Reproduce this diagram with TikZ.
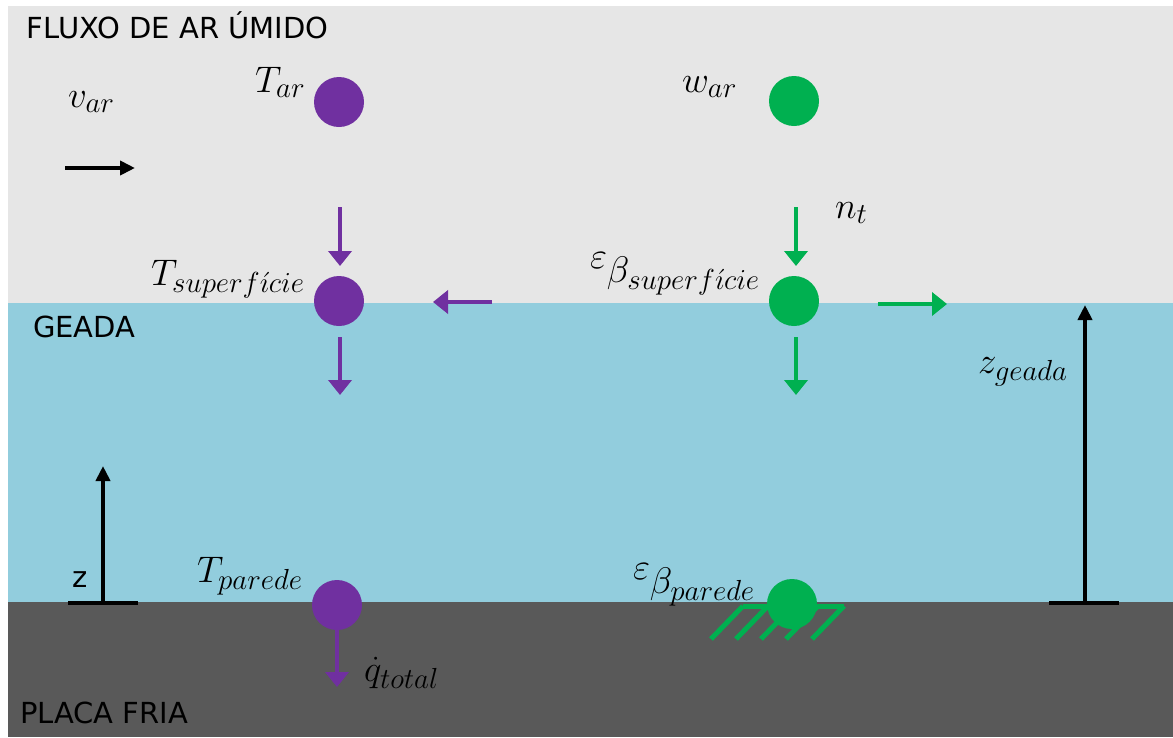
\RequirePackage{fix-cm}
\documentclass[tikz,border=0pt]{standalone}
\usepackage{fontspec}
\newfontfamily\lblfont{DejaVu Sans}
\usetikzlibrary{arrows.meta}
\DeclareMathSizes{37}{37}{29}{21}
\definecolor{airgray}{RGB}{230,230,230}
\definecolor{frost}{RGB}{146,205,221}
\definecolor{plate}{RGB}{89,89,89}
\definecolor{tpurple}{RGB}{112,48,160}
\definecolor{wgreen}{RGB}{0,176,80}
\begin{document}
\begin{tikzpicture}[x=1pt,y=-1pt,
  every node/.style={inner sep=0pt, outer sep=0pt},
  dot/.style={circle, minimum size=50pt, fill=#1},
  sym/.style={font=\fontsize{37}{44}\selectfont, anchor=base west, text=black},
  zone/.style={font=\lblfont\fontsize{29}{35}\selectfont, anchor=base west, text=black},
  colarrow/.style={draw=#1, line width=4pt, -{Triangle[width=23pt,length=15pt]}},
  blkarrow/.style={draw=black, line width=4.5pt, -{Triangle[width=14pt,length=15pt]}},
  basebar/.style={draw=black, line width=4.5pt},
  hatch/.style={draw=wgreen, line width=5pt}
]
\useasboundingbox (0,0) rectangle (1173,737);
\fill[white] (0,0) rectangle (1173,737);
% regions
\fill[airgray] (8,6) rectangle (1173,303);
\fill[frost] (8,303) rectangle (1173,602);
\fill[plate] (8,602) rectangle (1173,737);

% hatch under wall concentration point
\draw[hatch] (743,606) -- (844,606);
\foreach \hx in {743,768,793,818,844} {
  \draw[hatch] (\hx,606) -- (\hx-32,639);
}

% points
\node[dot=tpurple] (Tar) at (339,102) {};
\node[dot=tpurple] (Tsup) at (339,301) {};
\node[dot=tpurple] (Twall) at (337,605) {};
\node[dot=wgreen] (war) at (794,101) {};
\node[dot=wgreen] (esup) at (794,301) {};
\node[dot=wgreen] (ewall) at (792,604) {};

% arrow end coordinates
\coordinate (pa1s) at (340,207); \coordinate (pa1e) at (340,266);
\coordinate (pa2s) at (340,337); \coordinate (pa2e) at (340,395);
\coordinate (pa3s) at (492,302); \coordinate (pa3e) at (433,302);
\coordinate (pa4e) at (337,687);
\coordinate (ga1s) at (796,207); \coordinate (ga1e) at (796,266);
\coordinate (ga2s) at (796,337); \coordinate (ga2e) at (796,395);
\coordinate (ga3s) at (878,304); \coordinate (ga3e) at (947,304);
\coordinate (vs) at (65,168); \coordinate (ve) at (135,168);
\coordinate (zs) at (103,603); \coordinate (ze) at (103,466);
\coordinate (zl) at (68,603); \coordinate (zr) at (138,603);
\coordinate (gs) at (1085,603); \coordinate (ge) at (1085,305);
\coordinate (gl) at (1049,603); \coordinate (gr) at (1119,603);

% arrows
\draw[colarrow=tpurple] (pa1s) -- (pa1e);
\draw[colarrow=tpurple] (pa2s) -- (pa2e);
\draw[colarrow=tpurple] (pa3s) -- (pa3e);
\draw[colarrow=tpurple] (Twall.south) -- (pa4e);
\draw[colarrow=wgreen] (ga1s) -- (ga1e);
\draw[colarrow=wgreen] (ga2s) -- (ga2e);
\draw[colarrow=wgreen] (ga3s) -- (ga3e);
\draw[blkarrow] (vs) -- (ve);
\draw[blkarrow] (zs) -- (ze);
\draw[basebar] (zl) -- (zr);
\draw[blkarrow] (gs) -- (ge);
\draw[basebar] (gl) -- (gr);

% math labels
\node[sym] (lvar) at (68,107) {$v_{ar}$};
\node[sym] (lTar) at (255,92) {$T_{ar}$};
\node[sym] (lwar) at (682,92) {$w_{ar}$};
\node[sym] (lnt) at (835,218) {$n_t$};
\node[sym] (lTsup) at (151,285) {$T_{superf\acute{\imath}cie}$};
\node[sym] (lesup) at (590,282) {$\raisebox{14pt}{$\varepsilon$}\beta_{superf\acute{\imath}cie}$};
\node[sym] (lTwall) at (197,582) {$T_{parede}$};
\node[sym] (lewall) at (633,593) {$\raisebox{14pt}{$\varepsilon$}\beta_{parede}$};
\node[sym] (lq) at (364,681) {$\dot q_{total}$};
\node[sym] (lzg) at (978,373) {$z_{geada}$};

% zone labels
\node[zone] (lair) at (27,38) {FLUXO DE AR ÚMIDO};
\node[zone] (lfrost) at (33,337) {GEADA};
\node[zone] (lplate) at (20,723) {PLACA FRIA};
\node[zone] (lz) at (72,587) {z};
\end{tikzpicture}
\end{document}
